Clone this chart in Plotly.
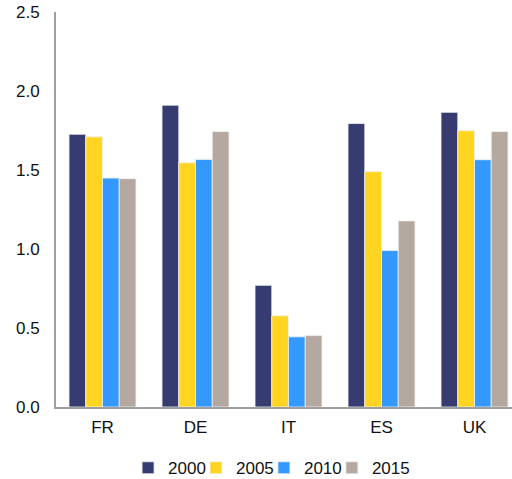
import plotly.graph_objects as go

categories = ["FR", "DE", "IT", "ES", "UK"]
years = ["2000", "2005", "2010", "2015"]
v2000 = [1.726, 1.91, 0.77, 1.794, 1.865]
v2005 = [1.71, 1.546, 0.577, 1.49, 1.749]
v2010 = [1.449, 1.567, 0.444, 0.99, 1.565]
v2015 = [1.445, 1.743, 0.452, 1.178, 1.743]
colors = ["#363C70", "#FFD522", "#3399FF", "#B5A8A0"]

# one small legend per series so the entries can sit as tightly as in the reference
legend_ids = ["legend4", "legend3", "legend2", "legend"]
legend_x = [0.158, 0.307, 0.456, 0.605]

fig = go.Figure()
for name, vals, c, lid in zip(years, [v2000, v2005, v2010, v2015], colors, legend_ids):
    fig.add_trace(go.Bar(x=categories, y=vals, name=name, legend=lid,
                         marker=dict(color=c, line=dict(color="rgba(240,240,240,0.8)", width=1))))

leg_common = dict(orientation="h", y=-0.155, yanchor="middle", xanchor="left",
                  font=dict(size=17), itemwidth=30,
                  bgcolor="rgba(0,0,0,0)")
layout_legends = {lid: dict(x=lx, **leg_common) for lid, lx in zip(legend_ids, legend_x)}

fig.update_layout(
    width=512, height=479,
    margin=dict(l=56, r=0, t=12, b=72, autoexpand=False),
    paper_bgcolor="white", plot_bgcolor="white",
    barmode="group", bargap=0.28, bargroupgap=0,
    font=dict(family="Liberation Sans", size=17, color="#111111"),
    showlegend=True,
    xaxis=dict(range=[-0.5, 4.403], showline=True, linecolor="#A0A0A0", linewidth=2,
               ticks="", showgrid=False, zeroline=False, ticklabelstandoff=4,
               automargin=False),
    yaxis=dict(range=[0, 2.5], dtick=0.5, tickformat=".1f", showline=True,
               linecolor="#A0A0A0", linewidth=2, ticks="", showgrid=False,
               zeroline=False, ticklabelstandoff=11, automargin=False,
               ticklabeloverflow="allow"),
    **layout_legends,
)
fig.write_html("out.html", config={"displayModeBar": False},
               post_script="document.body.style.margin='0';document.body.style.overflow='hidden';")
